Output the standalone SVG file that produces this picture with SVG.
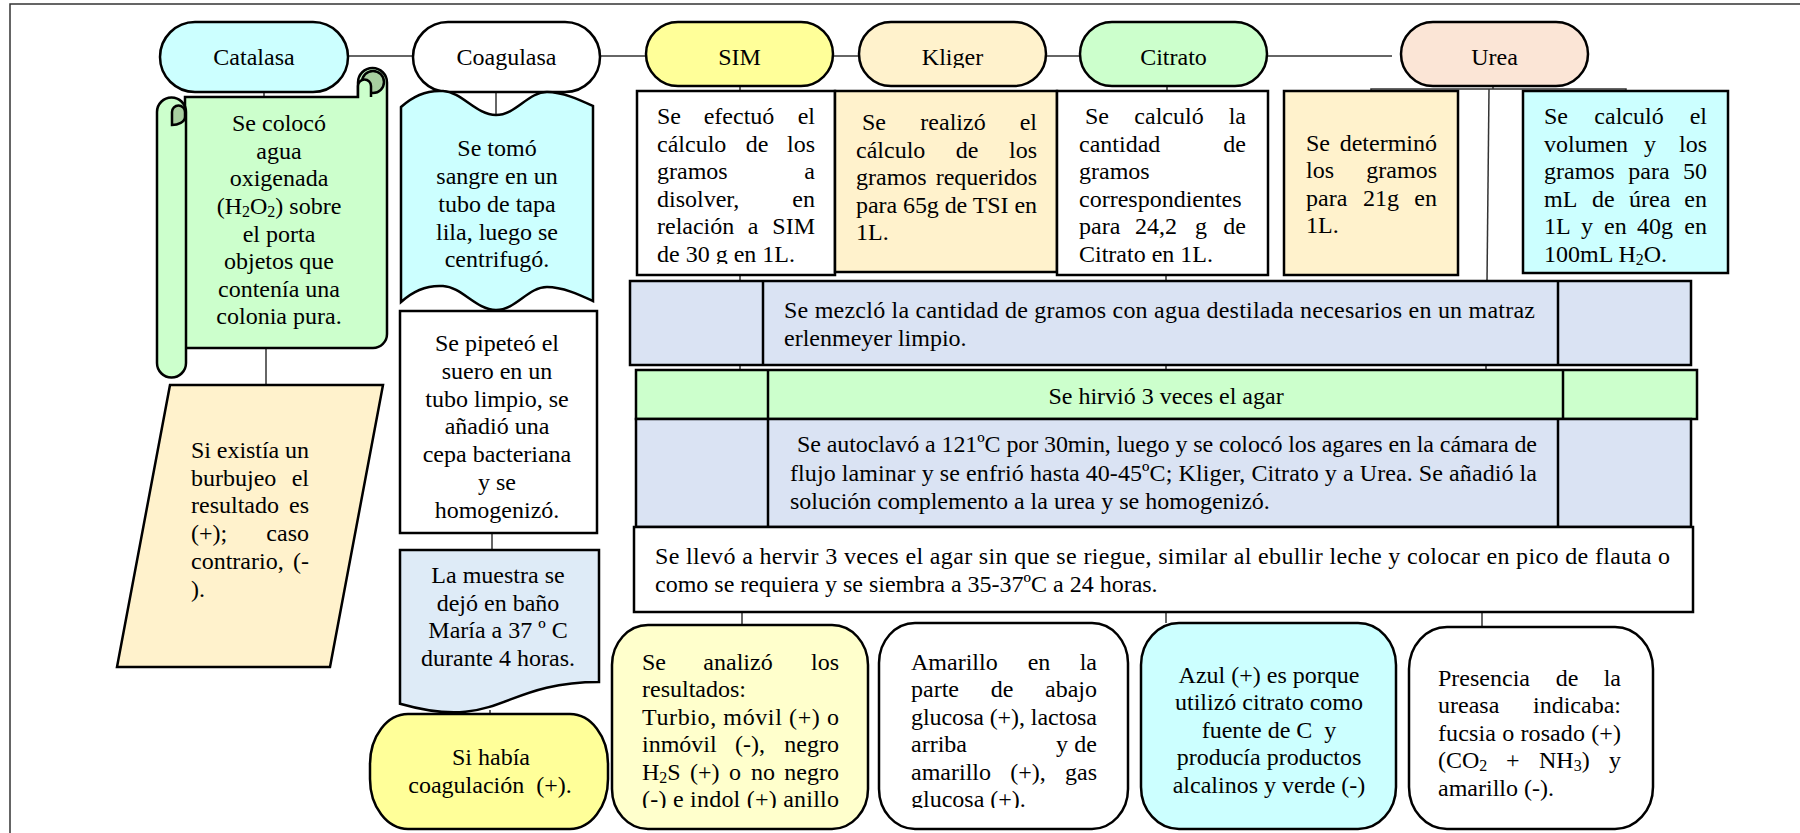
<svg xmlns="http://www.w3.org/2000/svg" width="1800" height="833" viewBox="0 0 1800 833">
  <style>
    .t { font-family: "Liberation Serif", "Times New Roman", serif; font-size: 24px; fill: #000; }
    .m { text-anchor: middle; }
    .e { text-anchor: end; }
    .pre { white-space: pre; }
    .sh { stroke: #000; stroke-width: 2.5; }
    .cn { stroke: #333; stroke-width: 1.5; fill: none; }
    .sub { font-size: 16px; }
  </style>
  <defs>
    <clipPath id="clipKliger"><rect x="858" y="22" width="188" height="46"/></clipPath>
    <clipPath id="clipSim"><rect x="636" y="91" width="199" height="173"/></clipPath>
    <clipPath id="clipBottom"><rect x="600" y="620" width="1100" height="188"/></clipPath>
  </defs>

  <rect width="1800" height="833" fill="#fff"/>
  <!-- page frame -->
  <path d="M10,833 V4 H1800" fill="none" stroke="#333" stroke-width="1.5"/>

  <!-- connectors -->
  <g id="connectors" class="cn">
    <line x1="348" y1="56" x2="413" y2="56"/>
    <line x1="600" y1="56" x2="646" y2="56"/>
    <line x1="833" y1="56" x2="859" y2="56"/>
    <line x1="1046" y1="56" x2="1080" y2="56"/>
    <line x1="1267" y1="56" x2="1392" y2="56"/>
    <line x1="264" y1="92" x2="264" y2="97"/>
    <line x1="266" y1="348" x2="266" y2="385"/>
    <line x1="496" y1="92" x2="496" y2="115"/>
    <line x1="493" y1="303" x2="493" y2="311"/>
    <line x1="492" y1="533" x2="492" y2="550"/>
    <line x1="490" y1="710" x2="490" y2="714"/>
    <line x1="740" y1="86" x2="740" y2="91"/>
    <line x1="1167" y1="86" x2="1167" y2="92"/>
    <polyline points="1371,92 1371,89 1626,89 1626,92"/>
    <line x1="1493" y1="86" x2="1493" y2="89"/>
    <line x1="1489" y1="89" x2="1487" y2="282"/>
    <line x1="740" y1="275" x2="740" y2="282"/>
    <line x1="1166" y1="275" x2="1166" y2="282"/>
    <line x1="740" y1="365" x2="740" y2="370"/>
    <line x1="1166" y1="365" x2="1166" y2="370"/>
    <line x1="1486" y1="365" x2="1486" y2="370"/>
    <line x1="742" y1="612" x2="742" y2="625"/>
    <line x1="1166" y1="612" x2="1166" y2="623"/>
    <line x1="1482" y1="612" x2="1482" y2="627"/>
  </g>

  <!-- header terminators -->
  <g id="catalasa">
    <rect class="sh" x="160" y="22" width="188" height="70" rx="35" fill="#CCFFFF"/>
    <text class="t m" x="254" y="65">Catalasa</text>
  </g>
  <g id="coagulasa">
    <rect class="sh" x="413" y="22" width="187" height="70" rx="35" fill="#FFFFFF"/>
    <text class="t m" x="506.5" y="65">Coagulasa</text>
  </g>
  <g id="sim">
    <rect class="sh" x="646" y="22" width="187" height="64" rx="32" fill="#FFFF99"/>
    <text class="t m" x="739.5" y="65">SIM</text>
  </g>
  <g id="kliger">
    <rect class="sh" x="859" y="22" width="187" height="64" rx="32" fill="#FFF2CC"/>
    <text class="t m" x="952.5" y="65" clip-path="url(#clipKliger)">Kliger</text>
  </g>
  <g id="citrato">
    <rect class="sh" x="1080" y="22" width="187" height="64" rx="32" fill="#CCFFCC"/>
    <text class="t m" x="1173.5" y="65">Citrato</text>
  </g>
  <g id="urea">
    <rect class="sh" x="1401" y="22" width="187" height="64" rx="32" fill="#FBE5D6"/>
    <text class="t m" x="1494.5" y="65">Urea</text>
  </g>

  <!-- Catalasa: scroll -->
  <g id="catalasa-paso">
    <path class="sh" fill="#CCFFCC" d="M185,97 H358 V82.5 A14.5,14.5 0 0 1 387,82.5 V334 A14,14 0 0 1 373,348 H185 Z"/>
    <circle class="sh" cx="373" cy="82" r="11" fill="#A8CFA0" stroke-width="2"/>
    <path class="sh" fill="#CCFFCC" stroke-width="2" d="M358,97 V86 A6.5,6.5 0 0 1 371,86 V97"/>
    <path class="sh" fill="#CCFFCC" d="M157,112 A14.5,14.5 0 0 1 186,112 V363 A14.5,14.5 0 0 1 157,363 Z"/>
    <path class="sh" fill="#A8CFA0" stroke-width="2" d="M172,125 V112 A6.5,6.5 0 0 1 185,112 V117 C185,122 178,125 172,125 Z"/>
    <text class="t m" x="279" y="131">Se colocó</text>
    <text class="t m" x="279" y="159">agua</text>
    <text class="t m" x="279" y="186">oxigenada</text>
    <text class="t m" x="279" y="214">(H<tspan class="sub" dy="3">2</tspan><tspan dy="-3">O</tspan><tspan class="sub" dy="3">2</tspan><tspan dy="-3">) sobre</tspan></text>
    <text class="t m" x="279" y="242">el porta</text>
    <text class="t m" x="279" y="269">objetos que</text>
    <text class="t m" x="279" y="297">contenía una</text>
    <text class="t m" x="279" y="324">colonia pura.</text>
  </g>

  <!-- Catalasa: result -->
  <g id="catalasa-resultado">
    <polygon class="sh" fill="#FFF2CC" points="170,385 383,385 330,667 117,667"/>
    <text class="t" x="191" y="458" textLength="118" lengthAdjust="spacing">Si existía un</text>
    <text class="t" x="191" y="486">burbujeo</text><text class="t e" x="309" y="486">el</text>
    <text class="t" x="191" y="513">resultado</text><text class="t e" x="309" y="513">es</text>
    <text class="t" x="191" y="541">(+);</text><text class="t e" x="309" y="541">caso</text>
    <text class="t" x="191" y="569">contrario,</text><text class="t e" x="309" y="569">(-</text>
    <text class="t" x="191" y="597">).</text>
  </g>

  <!-- Coagulasa steps -->
  <g id="coagulasa-paso1">
    <path class="sh" fill="#CCFFFF" d="M401,107 C414,95 428,90 443,91 C462,92 476,115 496,115 C516,115 528,92 547,92 C563,92 580,100 593,106 L593,301 C580,295 563,287 547,287 C528,287 516,310 496,310 C476,310 462,287 443,286 C428,285 414,290 401,302 Z"/>
    <text class="t m" x="497" y="156">Se tomó</text>
    <text class="t m" x="497" y="184">sangre en un</text>
    <text class="t m" x="497" y="212">tubo de tapa</text>
    <text class="t m" x="497" y="240">lila, luego se</text>
    <text class="t m" x="497" y="267">centrifugó.</text>
  </g>
  <g id="coagulasa-paso2">
    <rect class="sh" x="400" y="311" width="197" height="222" fill="#FFFFFF"/>
    <text class="t m" x="497" y="351">Se pipeteó el</text>
    <text class="t m" x="497" y="379">suero en un</text>
    <text class="t m" x="497" y="407">tubo limpio, se</text>
    <text class="t m" x="497" y="434">añadió una</text>
    <text class="t m" x="497" y="462">cepa bacteriana</text>
    <text class="t m" x="497" y="490">y se</text>
    <text class="t m" x="497" y="518">homogenizó.</text>
  </g>
  <g id="coagulasa-paso3">
    <path class="sh" fill="#DEEBF7" d="M400,550 H599 V682 C499.5,682 499.5,732 400,703.7 Z"/>
    <text class="t m" x="498" y="583">La muestra se</text>
    <text class="t m" x="498" y="611">dejó en baño</text>
    <text class="t m" x="498" y="638">María a 37 º C</text>
    <text class="t m" x="498" y="666">durante 4 horas.</text>
  </g>
  <g id="coagulasa-resultado">
    <rect class="sh" x="370" y="714" width="238" height="115" rx="38" ry="50" fill="#FFFF99"/>
    <text class="t m" x="491" y="765">Si había</text>
    <text class="t m pre" x="490" y="793">coagulación  (+).</text>
  </g>

  <!-- media preparation: per-medium calculations -->
  <g id="sim-calculo">
    <rect class="sh" x="637" y="91" width="198" height="184" fill="#FFFFFF"/>
    <g clip-path="url(#clipSim)">
      <text class="t" x="657" y="124">Se</text><text class="t m" x="739" y="124">efectuó</text><text class="t e" x="815" y="124">el</text>
      <text class="t" x="657" y="152">cálculo</text><text class="t m" x="757" y="152">de</text><text class="t e" x="815" y="152">los</text>
      <text class="t" x="657" y="179">gramos</text><text class="t e" x="815" y="179">a</text>
      <text class="t" x="657" y="207">disolver,</text><text class="t e" x="815" y="207">en</text>
      <text class="t" x="657" y="234">relación</text><text class="t m" x="753" y="234">a</text><text class="t e" x="815" y="234">SIM</text>
      <text class="t" x="657" y="262">de 30 g en 1L.</text>
    </g>
  </g>
  <g id="kliger-calculo">
    <rect class="sh" x="835" y="91" width="222" height="181" fill="#FFF2CC"/>
    <text class="t" x="862" y="130">Se</text><text class="t m" x="953" y="130">realizó</text><text class="t e" x="1037" y="130">el</text>
    <text class="t" x="856" y="158">cálculo</text><text class="t m" x="967" y="158">de</text><text class="t e" x="1037" y="158">los</text>
    <text class="t" x="856" y="185">gramos</text><text class="t e" x="1037" y="185">requeridos</text>
    <text class="t" x="856" y="213" textLength="181" lengthAdjust="spacing">para 65g de TSI en</text>
    <text class="t" x="856" y="240">1L.</text>
  </g>
  <g id="citrato-calculo">
    <rect class="sh" x="1057" y="91" width="211" height="184" fill="#FFFFFF"/>
    <text class="t" x="1085" y="124">Se</text><text class="t m" x="1169" y="124">calculó</text><text class="t e" x="1246" y="124">la</text>
    <text class="t" x="1079" y="152">cantidad</text><text class="t e" x="1246" y="152">de</text>
    <text class="t" x="1079" y="179">gramos</text>
    <text class="t" x="1079" y="207">correspondientes</text>
    <text class="t" x="1079" y="234">para</text><text class="t" x="1135" y="234">24,2</text><text class="t" x="1195" y="234">g</text><text class="t e" x="1246" y="234">de</text>
    <text class="t" x="1079" y="262">Citrato en 1L.</text>
  </g>
  <g id="urea-calculo1">
    <rect class="sh" x="1284" y="91" width="174" height="184" fill="#FFF2CC"/>
    <text class="t" x="1306" y="151">Se</text><text class="t e" x="1437" y="151">determinó</text>
    <text class="t" x="1306" y="178">los</text><text class="t e" x="1437" y="178">gramos</text>
    <text class="t" x="1306" y="206">para</text><text class="t m" x="1381" y="206">21g</text><text class="t e" x="1437" y="206">en</text>
    <text class="t" x="1306" y="233">1L.</text>
  </g>
  <g id="urea-calculo2">
    <rect class="sh" x="1523" y="91" width="205" height="182" fill="#CCFFFF"/>
    <text class="t" x="1544" y="124">Se</text><text class="t m" x="1629" y="124">calculó</text><text class="t e" x="1707" y="124">el</text>
    <text class="t" x="1544" y="152">volumen</text><text class="t m" x="1650" y="152">y</text><text class="t e" x="1707" y="152">los</text>
    <text class="t" x="1544" y="179">gramos</text><text class="t m" x="1649" y="179">para</text><text class="t e" x="1707" y="179">50</text>
    <text class="t" x="1544" y="207">mL</text><text class="t" x="1592" y="207">de</text><text class="t" x="1629" y="207">úrea</text><text class="t e" x="1707" y="207">en</text>
    <text class="t" x="1544" y="234">1L</text><text class="t" x="1581" y="234">y</text><text class="t" x="1604" y="234">en</text><text class="t" x="1637" y="234">40g</text><text class="t e" x="1707" y="234">en</text>
    <text class="t" x="1544" y="262">100mL H<tspan class="sub" dy="3">2</tspan><tspan dy="-3">O.</tspan></text>
  </g>

  <!-- shared preparation steps -->
  <g id="mezcla">
    <rect class="sh" x="630" y="281" width="1061" height="84" fill="#DAE3F3"/>
    <line class="sh" x1="763" y1="281" x2="763" y2="365"/>
    <line class="sh" x1="1558" y1="281" x2="1558" y2="365"/>
    <text class="t" x="784" y="318" textLength="751" lengthAdjust="spacing">Se mezcló la cantidad de gramos con agua destilada necesarios en un matraz</text>
    <text class="t" x="784" y="346">erlenmeyer limpio.</text>
  </g>
  <g id="hervido">
    <rect class="sh" x="636" y="370" width="1061" height="49" fill="#CCFFCC"/>
    <line class="sh" x1="768" y1="370" x2="768" y2="419"/>
    <line class="sh" x1="1563" y1="370" x2="1563" y2="419"/>
    <text class="t m" x="1166" y="404">Se hirvió 3 veces el agar</text>
  </g>
  <g id="autoclave">
    <rect class="sh" x="636" y="419" width="1055" height="108" fill="#DAE3F3"/>
    <line class="sh" x1="768" y1="419" x2="768" y2="527"/>
    <line class="sh" x1="1558" y1="419" x2="1558" y2="527"/>
    <text class="t" x="797" y="452" textLength="740" lengthAdjust="spacing">Se autoclavó a 121ºC por 30min, luego y se colocó los agares en la cámara de</text>
    <text class="t" x="790" y="481" textLength="747" lengthAdjust="spacing">flujo laminar y se enfrió hasta 40-45ºC; Kliger, Citrato y a Urea. Se añadió la</text>
    <text class="t" x="790" y="509">solución complemento a la urea y se homogenizó.</text>
  </g>
  <g id="siembra">
    <rect class="sh" x="634" y="527" width="1059" height="85" fill="#FFFFFF"/>
    <text class="t" x="655" y="564" textLength="1015" lengthAdjust="spacing">Se llevó a hervir 3 veces el agar sin que se riegue, similar al ebullir leche y colocar en pico de flauta o</text>
    <text class="t" x="655" y="592">como se requiera y se siembra a 35-37ºC a 24 horas.</text>
  </g>

  <!-- results per medium -->
  <g id="sim-resultado">
    <rect class="sh" x="612" y="625" width="256" height="204" rx="36" ry="40" fill="#FFFFCC"/>
    <g clip-path="url(#clipBottom)">
      <text class="t" x="642" y="670">Se</text><text class="t m" x="738" y="670">analizó</text><text class="t e" x="839" y="670">los</text>
      <text class="t" x="642" y="697">resultados:</text>
      <text class="t" x="642" y="725" textLength="197" lengthAdjust="spacing">Turbio, móvil (+) o</text>
      <text class="t" x="642" y="752">inmóvil</text><text class="t m" x="750" y="752">(-),</text><text class="t e" x="839" y="752">negro</text>
      <text class="t" x="642" y="780">H<tspan class="sub" dy="3">2</tspan><tspan dy="-3">S</tspan></text><text class="t" x="690" y="780">(+)</text><text class="t" x="729" y="780">o</text><text class="t" x="751" y="780">no</text><text class="t e" x="839" y="780">negro</text>
      <text class="t" x="642" y="807" textLength="197" lengthAdjust="spacing">(-) e indol (+) anillo</text>
    </g>
  </g>
  <g id="kliger-resultado">
    <rect class="sh" x="879" y="623" width="249" height="206" rx="36" ry="40" fill="#FFFFFF"/>
    <g clip-path="url(#clipBottom)">
      <text class="t" x="911" y="670">Amarillo</text><text class="t m" x="1039" y="670">en</text><text class="t e" x="1097" y="670">la</text>
      <text class="t" x="911" y="697">parte</text><text class="t m" x="1002" y="697">de</text><text class="t e" x="1097" y="697">abajo</text>
      <text class="t" x="911" y="725" textLength="186" lengthAdjust="spacing">glucosa (+), lactosa</text>
      <text class="t" x="911" y="752">arriba</text><text class="t m" x="1062" y="752">y</text><text class="t e" x="1097" y="752">de</text>
      <text class="t" x="911" y="780">amarillo</text><text class="t m" x="1028" y="780">(+),</text><text class="t e" x="1097" y="780">gas</text>
      <text class="t" x="911" y="807">glucosa (+).</text>
    </g>
  </g>
  <g id="citrato-resultado">
    <rect class="sh" x="1141" y="623" width="255" height="206" rx="38" ry="42" fill="#CCFFFF"/>
    <text class="t m" x="1269" y="683">Azul (+) es porque</text>
    <text class="t m" x="1269" y="710">utilizó citrato como</text>
    <text class="t m pre" x="1269" y="738">fuente de C  y</text>
    <text class="t m" x="1269" y="765">producía productos</text>
    <text class="t m" x="1269" y="793">alcalinos y verde (-)</text>
  </g>
  <g id="urea-resultado">
    <rect class="sh" x="1409" y="627" width="244" height="202" rx="38" ry="42" fill="#FFFFFF"/>
    <text class="t" x="1438" y="686">Presencia</text><text class="t m" x="1567" y="686">de</text><text class="t e" x="1621" y="686">la</text>
    <text class="t" x="1438" y="713">ureasa</text><text class="t e" x="1621" y="713">indicaba:</text>
    <text class="t" x="1438" y="741" textLength="183" lengthAdjust="spacing">fucsia o rosado (+)</text>
    <text class="t" x="1438" y="768">(CO<tspan class="sub" dy="3">2</tspan></text><text class="t" x="1506" y="768">+</text><text class="t" x="1539" y="768">NH<tspan class="sub" dy="3">3</tspan><tspan dy="-3">)</tspan></text><text class="t e" x="1621" y="768">y</text>
    <text class="t" x="1438" y="796">amarillo (-).</text>
  </g>
</svg>
